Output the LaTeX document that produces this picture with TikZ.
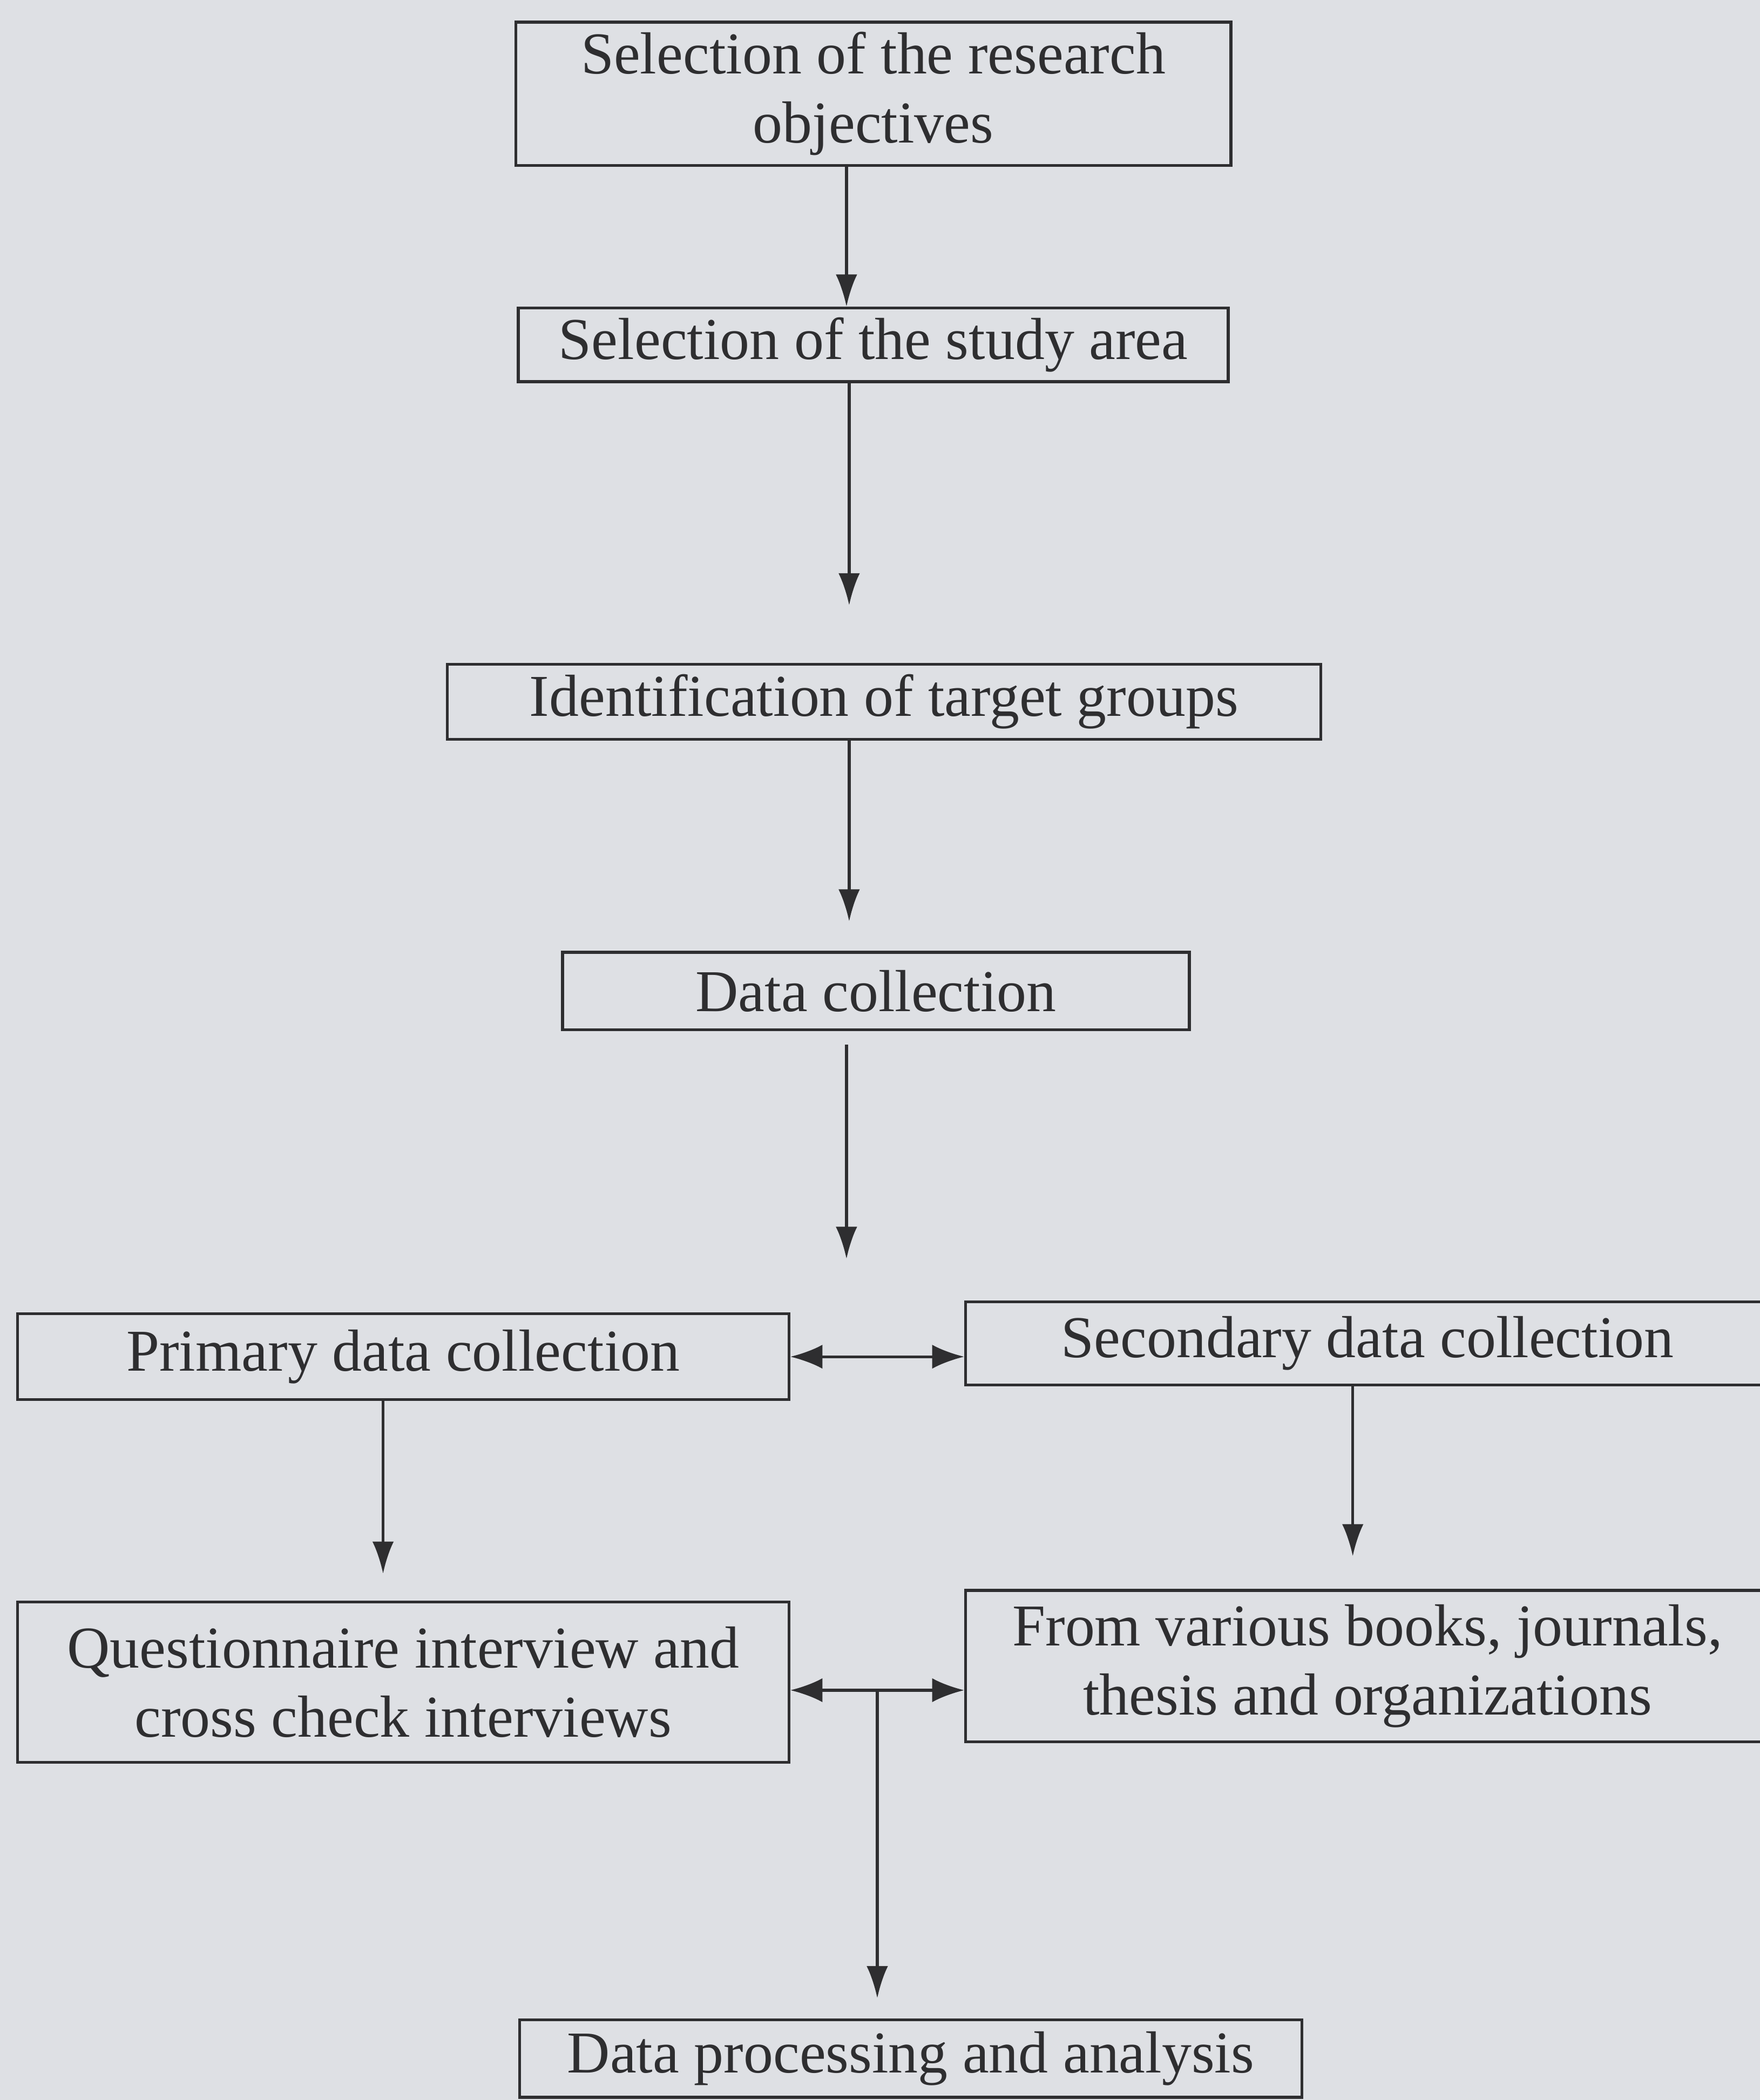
\documentclass[tikz,border=0pt]{standalone}
\usepackage{fontspec}
\setmainfont{Liberation Serif}
\usetikzlibrary{arrows.meta}
\definecolor{paper}{HTML}{DEE0E4}
\definecolor{ink}{HTML}{2E2E30}

\begin{document}
\begin{tikzpicture}[node distance=2cm,
		box/.style={draw=ink, line width=0.6pt, text=ink, align=center, inner sep=0pt,
			font=\fontsize{12.6}{14.6}\selectfont},
		flow/.style={draw=ink, line width=0.6pt, -{Latex[length=2.4mm,width=1.6mm]}},
		both/.style={draw=ink, line width=0.6pt, {Latex[length=2.4mm,width=1.8mm]}-{Latex[length=2.4mm,width=1.8mm]}}]
			\fill[paper] (0,0) rectangle (13.14,-15.68);
			\useasboundingbox (0,0) rectangle (13.14,-15.68);

			\node[box, minimum width=5.34cm, minimum height=1.07cm] (obj) at (6.52,-0.70) {Selection of the research\\objectives};
			\node[box, minimum width=5.30cm, minimum height=0.55cm, node distance=1.875cm] (area)[below of = obj] {Selection of the study area};
			\node[box, minimum width=6.52cm, minimum height=0.56cm, node distance=2.665cm, xshift=0.08cm] (target)[below of = area] {Identification of target groups};
			\node[box, minimum width=4.68cm, minimum height=0.58cm, node distance=2.16cm, xshift=-0.06cm] (data)[below of = target] {Data collection};
			\node[box, minimum width=5.76cm, minimum height=0.64cm] (primary) at (3.01,-10.13) {Primary data collection};
			\node[box, minimum width=6.00cm, minimum height=0.62cm, node distance=7.20cm, yshift=0.10cm] (secondary)[right of = primary] {Secondary data collection};
			\node[box, minimum width=5.76cm, minimum height=1.20cm, node distance=2.43cm] (quest)[below of = primary] {Questionnaire interview and\\cross check interviews};
			\node[box, minimum width=6.00cm, minimum height=1.13cm, node distance=7.20cm, yshift=0.12cm] (books)[right of = quest] {From various books, journals,\\thesis and organizations};
			\node[box, minimum width=5.84cm, minimum height=0.58cm] (proc) at (6.80,-15.37) {Data processing and analysis};

			\coordinate (t1) at (6.34,-4.52);
			\coordinate (t2) at (6.34,-6.88);
			\coordinate (s3) at (6.32,-7.80);
			\coordinate (t3) at (6.32,-9.40);
			\coordinate (t4) at (2.86,-11.75);
			\coordinate (t5) at (10.10,-11.62);
			\coordinate (j) at (6.55,-12.62);
			\coordinate (t6) at (6.55,-14.92);

			\draw[flow] ([xshift=-2mm]obj.south) -- ([xshift=-2mm]area.north);
			\draw[flow] (area.south -| t1) -- (t1);
			\draw[flow] (target.south -| t2) -- (t2);
			\draw[flow] (s3) -- (t3);
			\draw[both] (primary.east) -- (primary.east -| secondary.west);
			\draw[flow] (primary.south -| t4) -- (t4);
			\draw[flow] (secondary.south -| t5) -- (t5);
			\draw[both] (quest.east |- j) -- (books.west |- j);
			\draw[flow] (j) -- (t6);
		\end{tikzpicture}
\end{document}
